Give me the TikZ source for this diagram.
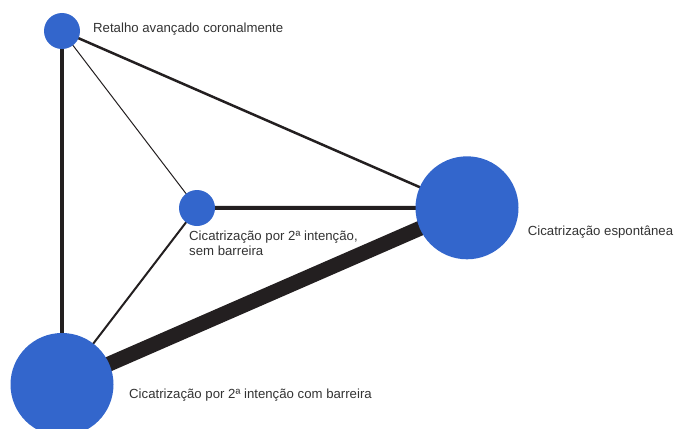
\documentclass[tikz,border=0pt]{standalone}
\usepackage{fontspec}
\setmainfont{Liberation Sans}
\usetikzlibrary{backgrounds}
\definecolor{nodeblue}{HTML}{3366CC}
\definecolor{edgedark}{HTML}{231F20}
\definecolor{labelgray}{HTML}{333333}
\begin{document}
\begin{tikzpicture}[x=1pt,y=-1pt,
  tnode/.style={circle,fill=nodeblue,draw=none,inner sep=0pt,minimum size=#1},
  edge/.style={draw=edgedark,line width=#1},
  lbl/.style={font=\fontsize{13.2}{15}\selectfont,text=labelgray,inner sep=0pt,anchor=base west,align=left}]
\useasboundingbox (0,0) rectangle (674,428);
\node[tnode=36pt] (rac) at (62,31) {};
\node[tnode=36pt] (sb) at (197,208) {};
\node[tnode=103pt] (ce) at (467,207.8) {};
\node[tnode=103pt] (cb) at (62,384.5) {};
\begin{scope}[on background layer]
\draw[edge=4pt] (rac.center) -- (cb.center);
\draw[edge=1pt] (rac.center) -- (sb.center);
\draw[edge=2.5pt] (rac.center) -- (ce.center);
\draw[edge=4pt] (sb.center) -- (ce.center);
\draw[edge=2pt] (sb.center) -- (cb.center);
\draw[edge=15pt] (cb.center) -- (ce.center);
\end{scope}
\node[lbl] (l1) at (93,32.3) {Retalho avançado coronalmente};
\node[lbl] (l2) at (189,255.7) {Cicatrização por 2ª intenção,\\sem barreira};
\node[lbl] (l3) at (527.7,235.7) {Cicatrização espontânea};
\node[lbl] (l4) at (129,398.3) {Cicatrização por 2ª intenção com barreira};
\end{tikzpicture}
\end{document}
